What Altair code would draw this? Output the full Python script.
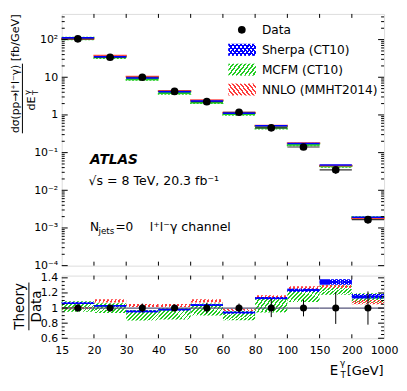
import numpy as np
import pandas as pd
import altair as alt

# ---------------- data ----------------
edge_labels = ["15", "20", "30", "40", "50", "60", "80", "100", "150", "200", "1000"]
xsec = [105, 34, 10.0, 4.2, 2.25, 1.18, 0.455, 0.141, 0.035, 0.00166]          # fb/GeV
data_rel_err = [0.05, 0.045, 0.06, 0.045, 0.07, 0.06, 0.12, 0.11, 0.21, 0.22]
sherpa_ratio = [1.065, 1.03, 0.955, 0.98, 1.04, 0.94, 1.13, 1.235, 1.345, 1.155]
sherpa_unc = [0.012, 0.012, 0.012, 0.012, 0.012, 0.012, 0.015, 0.02, 0.035, 0.03]
mcfm_ratio = [1.02, 1.0, 0.905, 0.925, 0.98, 0.90, 1.035, 1.16, 1.235, 1.135]
mcfm_unc = [0.07, 0.065, 0.07, 0.075, 0.08, 0.06, 0.095, 0.08, 0.06, 0.06]
nnlo_ratio = [1.0, 1.095, 1.035, 1.035, 1.095, 0.975, 1.15, 1.27, 1.285, 1.08]
nnlo_unc = [0.015, 0.02, 0.02, 0.02, 0.02, 0.015, 0.02, 0.02, 0.02, 0.03]

top_major = [1e-4, 1e-3, 1e-2, 1e-1, 1, 10, 100]
top_major_text = ["10⁻⁴", "10⁻³", "10⁻²", "10⁻¹", "1", "10", "10²"]
ratio_major = [0.6, 0.8, 1.0, 1.2, 1.4]
legend_labels = ["Data", "Sherpa (CT10)", "MCFM (CT10)", "NNLO (MMHT2014)"]

# ---------------- derived tables ----------------
n = len(xsec)
b = pd.DataFrame({"lo": np.arange(n), "hi": np.arange(n) + 1, "mid": np.arange(n) + 0.5,
                  "xsec": xsec, "err": data_rel_err,
                  "sh": sherpa_ratio, "shu": sherpa_unc,
                  "mc": mcfm_ratio, "mcu": mcfm_unc,
                  "nn": nnlo_ratio, "nnu": nnlo_unc})
b["one"] = 1.0
b["d_lo"] = b.xsec * (1 - b.err)
b["d_hi"] = b.xsec * (1 + b.err)
b["r_lo"] = 1 - b.err
b["r_hi"] = 1 + b.err
for k, u in [("sh", "shu"), ("mc", "mcu"), ("nn", "nnu")]:
    b[k + "_lo"] = b[k] - b[u]
    b[k + "_hi"] = b[k] + b[u]
    b[k + "_abs"] = b.xsec * b[k]
    b[k + "_abs_lo"] = b.xsec * b[k + "_lo"]
    b[k + "_abs_hi"] = b.xsec * b[k + "_hi"]

top_minor = [m * 10.0 ** d for d in range(-4, 3) for m in range(2, 10) if m * 10.0 ** d <= 480]
ratio_minor = [round(0.6 + 0.05 * i, 2) for i in range(17)]
ratio_minor = [v for v in ratio_minor if v not in ratio_major and v <= 1.43]
edges_df = pd.DataFrame({"e": list(range(1, n))})
tmaj = pd.DataFrame({"v": top_major})
tmin = pd.DataFrame({"v": top_minor})
rmaj = pd.DataFrame({"v": ratio_major})
rmin = pd.DataFrame({"v": ratio_minor})
one = pd.DataFrame({"a": [0]})

# ---------------- styles ----------------
W, HT, HR = 324, 253, 63
FONT = "DejaVu Sans"
BLUE, GREEN, RED = "#0000ff", "#22cc22", "#ff3b3b"
CLEAR = "rgba(255,255,255,0)"


def stripes(color, nstr, direction):
    stops = []
    for k in range(nstr):
        a, m, c = k / nstr, (k + 0.45) / nstr, (k + 1) / nstr
        stops += [{"offset": a, "color": color}, {"offset": m, "color": color},
                  {"offset": m, "color": CLEAR}, {"offset": c, "color": CLEAR}]
    if direction == "up":
        return {"gradient": "linear", "x1": 0, "y1": 0, "x2": 1.2, "y2": 0.4, "stops": stops}
    return {"gradient": "linear", "x1": 0, "y1": 1, "x2": 1.2, "y2": 0.6, "stops": stops}


xs = alt.Scale(domain=[0, n], nice=False, zero=False)
yts = alt.Scale(type="log", domain=[1e-4, 480], nice=False)
yrs = alt.Scale(domain=[0.6, 1.43], nice=False, zero=False)

expr = "''"
for v, t in zip(top_major, top_major_text):
    e = int(round(np.log10(v)))
    expr = f"round(log(datum.value)/LN10) == {e} ? '{t}' : ({expr})"
top_axis = alt.Axis(values=top_major, labelExpr=expr, ticks=False, domain=False, grid=False,
                    labelFontSize=11, labelFont=FONT, labelColor="black", labelPadding=4, title=None)
rat_axis = alt.Axis(values=ratio_major, format=".1~f", ticks=False, domain=False, grid=False,
                    labelFontSize=11, labelFont=FONT, labelColor="black", labelPadding=4, title=None)
lab_js = "[" + ",".join(f"'{s}'" for s in edge_labels) + "]"
x_axis = alt.Axis(values=list(range(n + 1)), labelExpr=f"{lab_js}[round(datum.value)]", ticks=False,
                  domain=False, grid=False, labelFontSize=11, labelFont=FONT, labelColor="black",
                  labelPadding=6, title=None, labelFlush=False)


def XT(f):
    return alt.X(f"{f}:Q", scale=xs, axis=None)


def XR(f):
    return alt.X(f"{f}:Q", scale=xs, axis=x_axis)


def YT(f):
    return alt.Y(f"{f}:Q", scale=yts, axis=top_axis)


def YR(f):
    return alt.Y(f"{f}:Q", scale=yrs, axis=rat_axis)


def txt(s, x, y, size=12.2, align="left", angle=0, baseline="middle", weight="normal", style="normal"):
    return alt.Chart(one).mark_text(text=s, align=align, baseline=baseline, angle=angle, fontSize=size,
                                    font=FONT, fontWeight=weight, fontStyle=style, color="black").encode(
        x=alt.value(x), y=alt.value(y))


def vrule(x, y1, y2):
    return alt.Chart(one).mark_rule(color="black", strokeWidth=1).encode(
        x=alt.value(x), y=alt.value(y1), y2=alt.value(y2))


# ---------------- top panel ----------------
bt = alt.Chart(b)
top_layers = [
    bt.mark_rect(fill=GREEN, stroke=GREEN, strokeWidth=1.2, strokeDash=[2, 1.5]).encode(
        x=XT("lo"), x2="hi", y=YT("mc_abs_lo"), y2="mc_abs_hi"),
    bt.mark_rect(fill=RED, stroke=RED, strokeWidth=1.2, opacity=0.9).encode(
        x=XT("lo"), x2="hi", y=YT("nn_abs_lo"), y2="nn_abs_hi"),
    bt.mark_rule(color="#333333", strokeWidth=1.2).encode(x=XT("lo"), x2="hi", y=YT("xsec")),
    bt.mark_rule(color=BLUE, strokeWidth=1.6).encode(x=XT("lo"), x2="hi", y=YT("sh_abs")),
    bt.mark_rule(color="black", strokeWidth=1).encode(x=XT("mid"), y=YT("d_lo"), y2="d_hi"),
    bt.mark_circle(color="black", opacity=1, size=60).encode(x=XT("mid"), y=YT("xsec")),
    # inward ticks
    alt.Chart(tmaj).mark_rule(color="black").encode(y=YT("v"), x=alt.value(0), x2=alt.value(6)),
    alt.Chart(tmin).mark_rule(color="black").encode(y=YT("v"), x=alt.value(0), x2=alt.value(3)),
    alt.Chart(tmaj).mark_rule(color="black").encode(y=YT("v"), x=alt.value(W), x2=alt.value(W - 6)),
    alt.Chart(tmin).mark_rule(color="black").encode(y=YT("v"), x=alt.value(W), x2=alt.value(W - 3)),
    alt.Chart(edges_df).mark_rule(color="black").encode(x=XT("e"), y=alt.value(HT), y2=alt.value(HT - 4)),
    alt.Chart(edges_df).mark_rule(color="black").encode(x=XT("e"), y=alt.value(0), y2=alt.value(4)),
    # legend
    alt.Chart(one).mark_circle(color="black", opacity=1, size=60).encode(x=alt.value(181), y=alt.value(16)),
]
leg_y = [36, 56, 76]
leg_fill = [[stripes(BLUE, 9, "up"), stripes(BLUE, 9, "down")],
            [stripes(GREEN, 9, "up")],
            [stripes(RED, 9, "down")]]
for yy, fills in zip(leg_y, leg_fill):
    for f in fills:
        top_layers.append(alt.Chart(one).mark_rect(fill=f).encode(
            x=alt.value(167.5), x2=alt.value(195.2), y=alt.value(yy - 6), y2=alt.value(yy + 6)))
for yy, lab in zip([16] + leg_y, legend_labels):
    top_layers.append(txt(lab, 201.2, yy))
top_layers += [
    txt("ATLAS", 28.5, 147, size=13.8, weight="bold", style="italic"),
    txt("√s = 8 TeV, 20.3 fb⁻¹", 27, 168, size=12.6),
    txt("N", 28.5, 214, size=12.2),
    txt("jets", 37, 218.5, size=8.8),
    txt("=0", 54, 214, size=12.2),
    txt("l⁺l⁻γ channel", 88.5, 214, size=12.6),
    # y title (rotated fraction)
    txt("dσ(pp→l⁺l⁻γ)", -46, 85.5, size=10.8, align="center", angle=270),
    txt("[fb/GeV]", -45.5, 24, size=11.3, align="center", angle=270),
    vrule(-39.5, 50, 120),
    txt("dE", -30, 90, size=11.3, align="center", angle=270),
    txt("γ", -34, 79, size=8, align="center", angle=270),
    txt("T", -26, 79, size=8, align="center", angle=270),
]
top = alt.layer(*top_layers).properties(width=W, height=HT)

# ---------------- ratio panel ----------------
br = alt.Chart(b)
rat_layers = [
    br.mark_rect(fill=stripes(GREEN, 11, "up")).encode(x=XR("lo"), x2="hi", y=YR("mc_lo"), y2="mc_hi"),
    br.mark_rect(fill=stripes(RED, 11, "down")).encode(x=XR("lo"), x2="hi", y=YR("nn_lo"), y2="nn_hi"),
    br.mark_rect(fill=stripes(BLUE, 11, "up")).encode(x=XR("lo"), x2="hi", y=YR("sh_lo"), y2="sh_hi"),
    br.mark_rect(fill=stripes(BLUE, 11, "down")).encode(x=XR("lo"), x2="hi", y=YR("sh_lo"), y2="sh_hi"),
    br.mark_rule(color=BLUE, strokeWidth=1.5).encode(x=XR("lo"), x2="hi", y=YR("sh")),
    br.mark_rule(color="#55557a", strokeWidth=1.3).encode(x=XR("lo"), x2="hi", y=YR("one")),
    br.mark_rule(color="black", strokeWidth=1).encode(x=XR("mid"), y=YR("r_lo"), y2="r_hi"),
    br.mark_circle(color="black", opacity=1, size=50).encode(x=XR("mid"), y=YR("one")),
    alt.Chart(rmaj).mark_rule(color="black").encode(y=YR("v"), x=alt.value(0), x2=alt.value(6)),
    alt.Chart(rmin).mark_rule(color="black").encode(y=YR("v"), x=alt.value(0), x2=alt.value(3)),
    alt.Chart(rmaj).mark_rule(color="black").encode(y=YR("v"), x=alt.value(W), x2=alt.value(W - 6)),
    alt.Chart(rmin).mark_rule(color="black").encode(y=YR("v"), x=alt.value(W), x2=alt.value(W - 3)),
    alt.Chart(edges_df).mark_rule(color="black").encode(x=XR("e"), y=alt.value(HR), y2=alt.value(HR - 4)),
    alt.Chart(edges_df).mark_rule(color="black").encode(x=XR("e"), y=alt.value(0), y2=alt.value(4)),
    txt("Theory", -42, 31, size=13.5, align="center", angle=270),
    vrule(-33, 7, 55),
    txt("Data", -24.5, 31, size=13.5, align="center", angle=270),
    txt("E", 269.5, 100, size=13.5, baseline="alphabetic"),
    txt("γ", 279.8, 90.5, size=8.8, baseline="alphabetic"),
    txt("T", 280.3, 102.5, size=8.8, baseline="alphabetic"),
    txt("[GeV]", 323.5, 100, size=13, align="right", baseline="alphabetic"),
]
ratio = alt.layer(*rat_layers).properties(width=W, height=HR)

chart = alt.vconcat(top, ratio, spacing=10, bounds="flush").properties(
    padding={"left": 1, "top": 4, "right": 0, "bottom": 0}
).configure_view(stroke="black", strokeWidth=1).configure(background="white")

chart.save("out.html", embed_options={"renderer": "svg", "actions": False})
